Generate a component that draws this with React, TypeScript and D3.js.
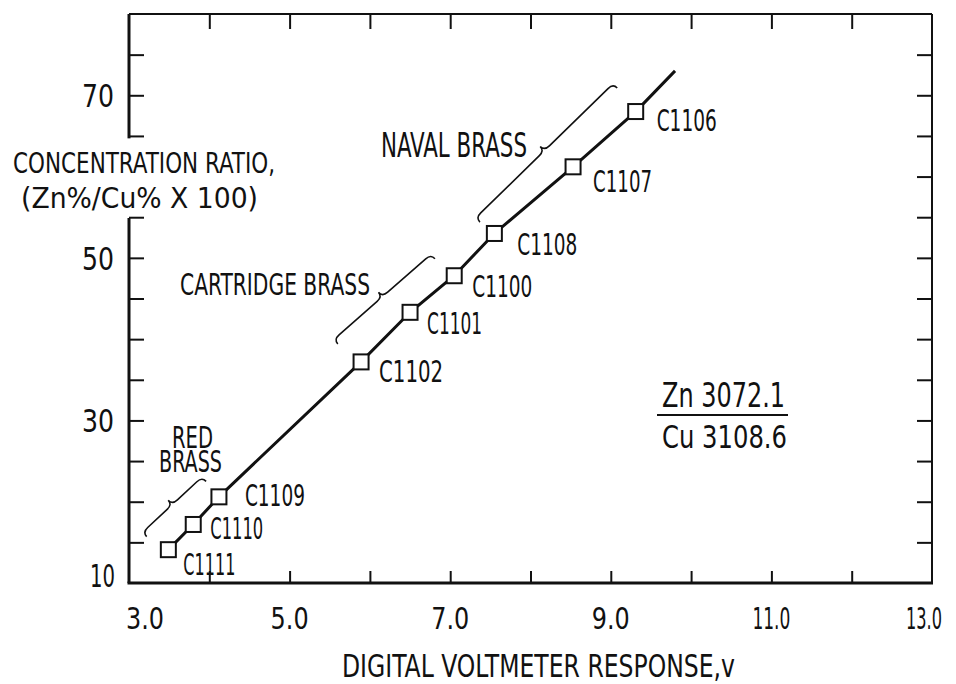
import React, { useRef, useEffect } from 'react';
import * as d3 from 'd3';

// samples
const sampleNames = ['C1111', 'C1110', 'C1109', 'C1102', 'C1101', 'C1100', 'C1108', 'C1107', 'C1106'];
const voltage = [3.49, 3.8, 4.12, 5.89, 6.5, 7.05, 7.55, 8.53, 9.31];
const ratio = [14.1, 17.2, 20.6, 37.2, 43.3, 47.8, 53.0, 61.2, 68.0];
// fitted line runs on past the last sample
const lineEnd = [9.8, 73.0];

// alloy group brackets: [x0, y0, x1, y1] in data units
const groupNames = ['RED BRASS', 'CARTRIDGE BRASS', 'NAVAL BRASS'];
const groupSpans = [
  [3.22, 15.7, 3.96, 22.5],
  [5.6, 39.4, 6.81, 49.9],
  [7.37, 54.4, 9.08, 70.9],
];

const xTickLabels = ['3.0', '5.0', '7.0', '9.0', '11.0', '13.0'];
const xLabelValues = [3, 5, 7, 9, 11, 13];
const xMinorTicks = [4, 5, 6, 7, 8, 9, 10, 11, 12];
const yLabelValues = [10, 30, 50, 70];
const yMinorTicks = [15, 20, 25, 30, 35, 40, 45, 50, 55, 65, 70, 75];
const yRightTicks = [15, 20, 25, 30, 35, 40, 45, 50, 55, 60, 65, 70, 75];

const FONT = "'DejaVu Sans Condensed', 'DejaVu Sans', sans-serif";

// text squeezed to a measured width, cap height given in px
const Label = ({ x, y, w, cap, children }) => (
  <text
    x={x}
    y={y}
    fontSize={cap / 0.73}
    textLength={w}
    lengthAdjust="spacingAndGlyphs"
    fontFamily={FONT}
    fill="#111"
  >
    {children}
  </text>
);

function bracePath(x1, y1, x2, y2, w, r) {
  const dx = x2 - x1, dy = y2 - y1;
  const L = Math.hypot(dx, dy);
  const ux = dx / L, uy = dy / L;
  const nx = uy, ny = -ux;
  const P = (t, s) => `${x1 + ux * t + nx * s},${y1 + uy * t + ny * s}`;
  const m = L / 2;
  return `M${P(0, 0)} Q${P(0, w)} ${P(r, w)} L${P(m - r, w)} Q${P(m, w)} ${P(m, 2 * w)} ` +
    `Q${P(m, w)} ${P(m + r, w)} L${P(L - r, w)} Q${P(L, w)} ${P(L, 0)}`;
}

// label offsets from each square centre [dx, dy, width]
const nameOffsets = [
  [15, 25, 52], [17, 15, 53], [26, 9, 60], [18, 20, 64], [17, 22, 55],
  [18, 21, 60], [23, 22, 60], [20, 25, 59], [21, 19, 60],
];

const App = () => {
  const topRef = useRef(null);
  const bottomRef = useRef(null);
  const leftRef = useRef(null);
  const rightRef = useRef(null);

  const x = d3.scaleLinear().domain([3, 13]).range([129, 932]);
  const y = d3.scaleLinear().domain([10, 80]).range([583, 14]);

  useEffect(() => {
    const style = (g) => {
      g.select('.domain').remove();
      g.selectAll('.tick line').attr('stroke', '#111').attr('stroke-width', 2);
      g.selectAll('.tick text').remove();
    };
    d3.select(topRef.current).call(
      d3.axisTop(x).tickValues(xMinorTicks).tickSizeInner(-15).tickSizeOuter(0)
    ).call(style);
    d3.select(bottomRef.current).call(
      d3.axisBottom(x).tickValues(xMinorTicks).tickSizeInner(-12).tickSizeOuter(0)
    ).call(style);
    d3.select(leftRef.current).call(
      d3.axisLeft(y).tickValues(yMinorTicks).tickSizeInner(-15).tickSizeOuter(0)
    ).call(style);
    d3.select(rightRef.current).call(
      d3.axisRight(y).tickValues(yRightTicks).tickSizeInner(-15).tickSizeOuter(0)
    ).call(style);
  }, []);

  const pts = voltage.map((v, i) => [v, ratio[i]]);
  const line = d3.line().x((d) => x(d[0])).y((d) => y(d[1]));
  const x0 = x(3), x1 = x(13), yTop = y(80), yBot = y(10);

  return (
    <svg width={956} height={684} style={{ position: 'absolute', left: 0, top: 0, background: '#fff' }}>
      <rect width={956} height={684} fill="#fff" />
      {/* frame */}
      <line x1={x0} x2={x1} y1={yTop} y2={yTop} stroke="#111" strokeWidth={2} />
      <line x1={x0 - 1.5} x2={x1 + 1} y1={yBot} y2={yBot} stroke="#111" strokeWidth={3} />
      <line x1={x1} x2={x1} y1={yTop} y2={yBot} stroke="#111" strokeWidth={2} />
      <line x1={x0} x2={x0} y1={yTop} y2={y(64.7)} stroke="#111" strokeWidth={3} />
      <line x1={x0} x2={x0} y1={y(54.9)} y2={yBot} stroke="#111" strokeWidth={3} />
      <g ref={topRef} transform={`translate(0,${yTop})`} />
      <g ref={bottomRef} transform={`translate(0,${yBot})`} />
      <g ref={leftRef} transform={`translate(${x0},0)`} />
      <g ref={rightRef} transform={`translate(${x1},0)`} />

      {/* tick labels */}
      {xTickLabels.map((t, i) => {
        const cx = x(xLabelValues[i]) + (i === 0 ? 16 : i === 5 ? -8 : 0);
        const w = i === 5 ? 36 : 38;
        return <Label key={t} x={cx - w / 2} y={629} w={w} cap={22}>{t}</Label>;
      })}
      {yLabelValues.map((v) => (
        <Label key={v} x={v === 10 ? 90 : 82} y={y(v) + (v === 10 ? 4 : 12)} w={v === 10 ? 25 : 32} cap={23}>{String(v)}</Label>
      ))}

      {/* axis titles */}
      <Label x={342} y={677} w={393} cap={23}>DIGITAL VOLTMETER RESPONSE,v</Label>
      <Label x={13} y={173} w={262} cap={21}>CONCENTRATION RATIO,</Label>
      <Label x={21} y={208} w={237} cap={21}>(Zn%/Cu% X 100)</Label>

      {/* calibration line and samples */}
      <path d={line([...pts, lineEnd])} fill="none" stroke="#111" strokeWidth={3} />
      {pts.map((p, i) => (
        <rect key={sampleNames[i]} x={x(p[0]) - 7.5} y={y(p[1]) - 7.5} width={15} height={15}
          fill="#fff" stroke="#111" strokeWidth={2} />
      ))}
      {pts.map((p, i) => (
        <Label key={'l' + i} x={x(p[0]) + nameOffsets[i][0]} y={y(p[1]) + nameOffsets[i][1]}
          w={nameOffsets[i][2]} cap={22}>{sampleNames[i]}</Label>
      ))}

      {/* group brackets */}
      {groupSpans.map((s, i) => (
        <path key={groupNames[i]} d={bracePath(x(s[0]), y(s[1]), x(s[2]), y(s[3]), 6, 7)}
          fill="none" stroke="#111" strokeWidth={1.6} />
      ))}
      <text fontSize={22 / 0.73} fontFamily={FONT} fill="#111">
        <tspan x={172} y={448} textLength={41} lengthAdjust="spacingAndGlyphs">RED</tspan>
        <tspan x={159} y={472} textLength={63} lengthAdjust="spacingAndGlyphs">BRASS</tspan>
      </text>
      <Label x={180} y={295} w={190} cap={22}>CARTRIDGE BRASS</Label>
      <Label x={381} y={157} w={146} cap={24}>NAVAL BRASS</Label>

      {/* emission lines note */}
      <Label x={662} y={407} w={123} cap={24}>Zn 3072.1</Label>
      <line x1={657} x2={788} y1={415} y2={415} stroke="#111" strokeWidth={2} />
      <Label x={662} y={448} w={125} cap={23}>Cu 3108.6</Label>
    </svg>
  );
};

export default App;
